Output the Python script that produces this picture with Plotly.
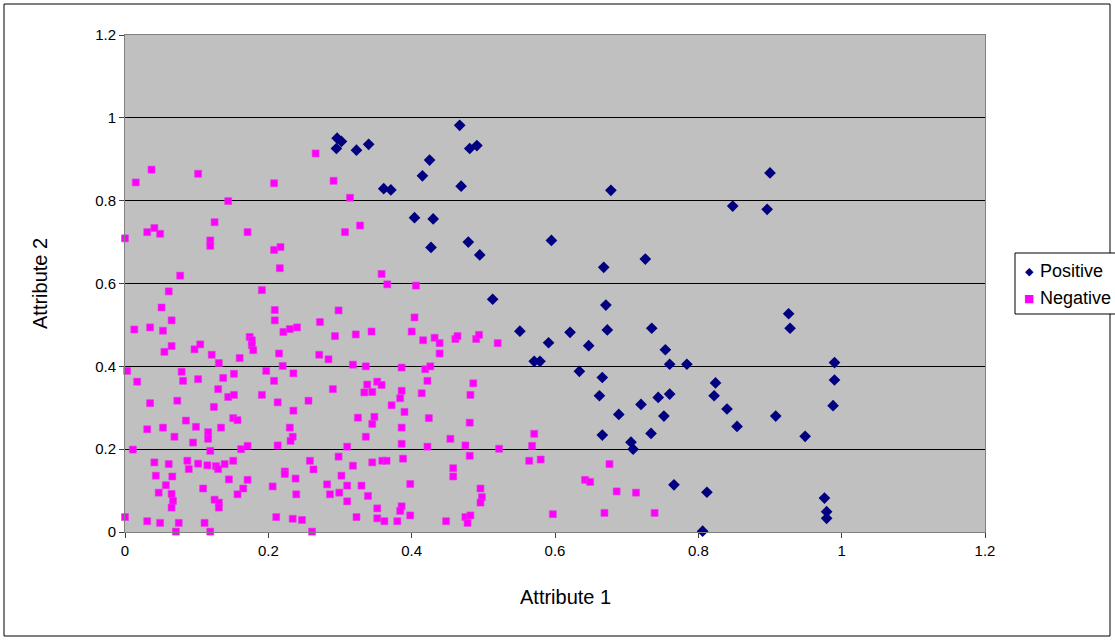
import plotly.graph_objects as go

# Positive class samples (Attribute 1, Attribute 2)
pos_x = [0.296, 0.302, 0.295, 0.323, 0.340, 0.467, 0.481, 0.491, 0.425, 0.415,
         0.361, 0.371, 0.469, 0.404, 0.430, 0.427, 0.479, 0.495, 0.595, 0.668,
         0.513, 0.551, 0.621, 0.678, 0.900, 0.848, 0.896, 0.726, 0.671, 0.926,
         0.673, 0.735, 0.928, 0.754, 0.760, 0.784, 0.990, 0.666, 0.824, 0.990,
         0.662, 0.720, 0.744, 0.760, 0.822, 0.840, 0.988, 0.689, 0.752, 0.908,
         0.854, 0.666, 0.734, 0.949, 0.706, 0.709, 0.766, 0.812, 0.976, 0.979,
         0.979, 0.806, 0.591, 0.647, 0.571, 0.579, 0.634]
pos_y = [0.951, 0.943, 0.926, 0.922, 0.936, 0.982, 0.926, 0.933, 0.898, 0.860,
         0.829, 0.826, 0.835, 0.759, 0.756, 0.687, 0.700, 0.669, 0.704, 0.639,
         0.562, 0.485, 0.482, 0.825, 0.867, 0.787, 0.779, 0.659, 0.548, 0.527,
         0.488, 0.492, 0.492, 0.440, 0.405, 0.405, 0.409, 0.373, 0.360, 0.367,
         0.329, 0.308, 0.325, 0.333, 0.329, 0.297, 0.305, 0.284, 0.280, 0.280,
         0.255, 0.234, 0.238, 0.231, 0.217, 0.200, 0.114, 0.096, 0.082, 0.049,
         0.033, 0.002, 0.457, 0.450, 0.412, 0.412, 0.388]

# Negative class samples (Attribute 1, Attribute 2)
neg_x = [0.037, 0.015, 0.102, 0.208, 0.266, 0.291, 0.314, 0.144, 0.125, 0.328,
         0.000, 0.031, 0.041, 0.049, 0.119, 0.119, 0.171, 0.208, 0.217, 0.216,
         0.307, 0.077, 0.061, 0.191, 0.051, 0.065, 0.013, 0.035, 0.053, 0.209,
         0.209, 0.221, 0.230, 0.240, 0.272, 0.298, 0.293, 0.322, 0.174,
         0.358, 0.366, 0.406, 0.404, 0.344, 0.400,
         0.416, 0.432, 0.439, 0.461, 0.464, 0.490, 0.494, 0.520, 0.439, 0.318,
         0.336, 0.386, 0.419, 0.426, 0.422, 0.486, 0.482, 0.338, 0.352, 0.358,
         0.334, 0.345, 0.386, 0.384, 0.414, 0.372, 0.390, 0.325, 0.348, 0.345,
         0.386, 0.424, 0.481, 0.571, 0.336, 0.386, 0.422, 0.454, 0.475, 0.568,
         0.522, 0.481, 0.345, 0.359, 0.365, 0.388, 0.458, 0.458, 0.564, 0.580,
         0.330, 0.398, 0.339, 0.496, 0.498, 0.496, 0.352, 0.386, 0.384, 0.323,
         0.352, 0.362, 0.380, 0.398, 0.448, 0.475, 0.482, 0.478, 0.597, 0.642,
         0.649,
         0.676, 0.686, 0.713, 0.669, 0.739,
         0.177, 0.177, 0.179, 0.065, 0.055, 0.097, 0.105, 0.121, 0.131, 0.160,
         0.215, 0.220, 0.235, 0.271, 0.284, 0.003, 0.017, 0.079, 0.081, 0.102,
         0.152, 0.137, 0.197, 0.208, 0.130, 0.144, 0.152, 0.191, 0.290, 0.035,
         0.073, 0.124, 0.213, 0.256, 0.235, 0.085, 0.099, 0.151, 0.157, 0.031,
         0.053, 0.069, 0.095, 0.116, 0.116, 0.134, 0.119, 0.162, 0.171, 0.213,
         0.230, 0.234, 0.231, 0.310, 0.011, 0.041, 0.061, 0.087, 0.089, 0.102,
         0.115, 0.127, 0.130, 0.139, 0.151, 0.043, 0.066, 0.145, 0.171, 0.057,
         0.047, 0.065, 0.067, 0.065, 0.109, 0.165, 0.157, 0.125, 0.131, 0.131,
         0.206, 0.223, 0.223, 0.238, 0.239, 0.258, 0.263, 0.282, 0.286, 0.299,
         0.302, 0.298, 0.310, 0.310, 0.318, 0.000, 0.031, 0.049, 0.071, 0.075,
         0.111, 0.119, 0.211, 0.234, 0.247, 0.261]
neg_y = [0.875, 0.844, 0.865, 0.842, 0.914, 0.848, 0.807, 0.799, 0.748, 0.740,
         0.709, 0.724, 0.734, 0.720, 0.704, 0.691, 0.724, 0.681, 0.688, 0.637,
         0.724, 0.619, 0.581, 0.584, 0.542, 0.511, 0.489, 0.494, 0.486, 0.536,
         0.511, 0.483, 0.490, 0.494, 0.507, 0.535, 0.473, 0.477, 0.471,
         0.623, 0.598, 0.595, 0.518, 0.484, 0.484,
         0.463, 0.469, 0.456, 0.466, 0.473, 0.466, 0.476, 0.456, 0.431, 0.404,
         0.400, 0.397, 0.393, 0.400, 0.365, 0.359, 0.331, 0.356, 0.363, 0.355,
         0.337, 0.338, 0.341, 0.323, 0.335, 0.306, 0.290, 0.276, 0.278, 0.261,
         0.252, 0.275, 0.264, 0.237, 0.230, 0.213, 0.206, 0.225, 0.209, 0.208,
         0.201, 0.184, 0.168, 0.172, 0.172, 0.177, 0.154, 0.134, 0.172, 0.175,
         0.112, 0.116, 0.087, 0.105, 0.084, 0.071, 0.057, 0.062, 0.051, 0.036,
         0.033, 0.026, 0.026, 0.040, 0.026, 0.036, 0.040, 0.022, 0.043, 0.126,
         0.121,
         0.164, 0.098, 0.095, 0.046, 0.046,
         0.463, 0.451, 0.439, 0.449, 0.435, 0.441, 0.453, 0.428, 0.408, 0.420,
         0.431, 0.401, 0.383, 0.428, 0.417, 0.389, 0.363, 0.387, 0.365, 0.369,
         0.382, 0.372, 0.389, 0.365, 0.345, 0.326, 0.331, 0.331, 0.345, 0.311,
         0.317, 0.302, 0.313, 0.317, 0.293, 0.269, 0.254, 0.275, 0.270, 0.248,
         0.252, 0.230, 0.216, 0.241, 0.225, 0.252, 0.196, 0.200, 0.208, 0.209,
         0.252, 0.230, 0.220, 0.206, 0.199, 0.168, 0.164, 0.172, 0.152, 0.165,
         0.161, 0.159, 0.152, 0.164, 0.172, 0.136, 0.134, 0.127, 0.126, 0.113,
         0.095, 0.092, 0.075, 0.059, 0.105, 0.105, 0.091, 0.078, 0.071, 0.059,
         0.110, 0.146, 0.140, 0.129, 0.091, 0.172, 0.151, 0.115, 0.091, 0.095,
         0.136, 0.182, 0.112, 0.074, 0.160, 0.036, 0.026, 0.022, 0.001, 0.022,
         0.022, 0.001, 0.036, 0.032, 0.029, 0.001]

series_names = ["Positive", "Negative"]
series_colors = ["#000080", "#FF00FF"]
series_glyphs = ["◆", "■"]

tick_vals = [0, 0.2, 0.4, 0.6, 0.8, 1.0, 1.2]
tick_text = ["0", "0.2", "0.4", "0.6", "0.8", "1", "1.2"]

FONT = "Liberation Sans, Arial, sans-serif"

fig = go.Figure()
fig.add_trace(go.Scatter(
    x=pos_x, y=pos_y, mode="markers", name=series_names[0],
    marker=dict(symbol="diamond", size=9, color=series_colors[0],
                line=dict(width=0)),
    cliponaxis=False,
))
fig.add_trace(go.Scatter(
    x=neg_x, y=neg_y, mode="markers", name=series_names[1],
    marker=dict(symbol="square", size=7, color=series_colors[1],
                line=dict(width=0.6, color="#E040E0")),
    cliponaxis=False,
))

axis_common = dict(
    range=[0, 1.2], tickvals=tick_vals, ticktext=tick_text,
    ticks="outside", ticklen=5, tickcolor="#404040", tickwidth=1,
    showline=True, linecolor="#808080", linewidth=1, mirror=True,
    zeroline=False, tickfont=dict(family=FONT, size=15, color="black"),
)
fig.update_xaxes(**axis_common, showgrid=False)
fig.update_yaxes(**axis_common, showgrid=True, gridcolor="black", gridwidth=1)

W, H = 1115, 640
L, R, T, B = 125, 130, 35, 108
pw, ph = W - L - R, H - T - B


def px_x(p):
    return (p - L) / pw


def px_y(p):
    return (H - B - p) / ph


# Legend box drawn by hand so it may run off the right edge of the page
legend_rows = [271, 298]
legend_items = []
for name, color, glyph, yrow in zip(series_names, series_colors, series_glyphs, legend_rows):
    legend_items.append(dict(
        text=glyph, xref="paper", yref="paper", x=px_x(1029), y=px_y(yrow),
        xanchor="center", yanchor="middle", showarrow=False,
        font=dict(family="DejaVu Sans", size=11, color=color)))
    legend_items.append(dict(
        text=name, xref="paper", yref="paper", x=px_x(1038), y=px_y(yrow),
        xanchor="left", yanchor="middle", showarrow=False,
        font=dict(family=FONT, size=18, color="black")))

fig.update_layout(
    width=W, height=H,
    margin=dict(l=L, r=R, t=T, b=B),
    paper_bgcolor="white", plot_bgcolor="#C0C0C0",
    font=dict(family=FONT, color="black"),
    showlegend=False,
    shapes=[
        dict(type="rect", xref="paper", yref="paper",
             x0=px_x(4), x1=px_x(1110), y0=px_y(636), y1=px_y(4),
             line=dict(color="black", width=1), layer="below"),
        dict(type="rect", xref="paper", yref="paper",
             x0=px_x(1015), x1=px_x(1130), y0=px_y(314), y1=px_y(253),
             line=dict(color="black", width=1), fillcolor="white",
             layer="above"),
    ],
    annotations=[
        dict(text="Attribute 1", xref="paper", yref="paper",
             x=px_x(565), y=px_y(597), xanchor="center", yanchor="middle",
             showarrow=False,
             font=dict(family=FONT, size=20, color="black")),
        dict(text="Attribute 2", xref="paper", yref="paper",
             x=px_x(40), y=px_y(284), xanchor="center", yanchor="middle",
             showarrow=False, textangle=-90,
             font=dict(family=FONT, size=20, color="black")),
    ] + legend_items,
)

fig.write_html("out.html")
